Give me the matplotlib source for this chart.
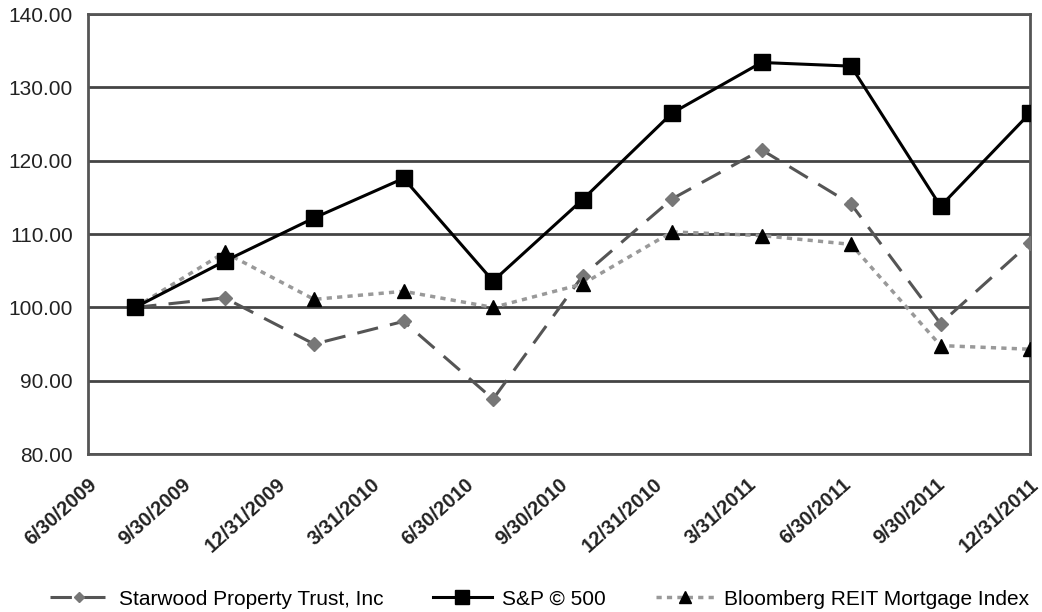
import numpy as np
import matplotlib
matplotlib.use('Agg')
import matplotlib.pyplot as plt

plt.rcParams['font.family'] = ['Liberation Sans', 'DejaVu Sans']

# 季度日期与三条指数走势
dates = ['6/30/2009', '9/30/2009', '12/31/2009', '3/31/2010', '6/30/2010',
         '9/30/2010', '12/31/2010', '3/31/2011', '6/30/2011', '9/30/2011',
         '12/31/2011']
starwood = [100.0, 101.3, 95.0, 98.1, 87.5, 104.3, 114.8, 121.5, 114.1, 97.8, 108.8]
sp500 = [100.0, 106.3, 112.2, 117.6, 103.6, 114.7, 126.5, 133.4, 132.9, 113.8, 126.5]
bloomberg = [100.0, 107.5, 101.1, 102.2, 100.0, 103.2, 110.3, 109.8, 108.6, 94.8, 94.3]

fig = plt.figure(figsize=(10.42, 6.12), dpi=100)
ax = fig.add_axes([0.0845, 0.258, 0.904, 0.719])

x = np.arange(len(dates))

ax.plot(x, starwood, color='#555555', lw=2.2, dashes=(7, 4),
        marker='D', ms=7, mfc='#777777', mec='#777777',
        label='Starwood Property Trust, Inc', zorder=3)
ax.plot(x, sp500, color='black', lw=2.2, marker='s', ms=12,
        mfc='black', mec='black', label='S&P \u00a9 500', zorder=4)
ax.plot(x, bloomberg, color='#999999', lw=2.5, dashes=(1.5, 1.5),
        marker='^', ms=10, mfc='black', mec='black',
        label='Bloomberg REIT Mortgage Index', zorder=3)

# 横轴：标签均匀分布在整个坐标区宽度上
x0 = -0.526
ax.set_xlim(x0, len(dates) - 1)
ax.set_xticks(np.linspace(x0, len(dates) - 1, len(dates)))
ax.set_xticklabels(dates, rotation=42, ha='right', va='top',
                   rotation_mode='anchor', fontsize=14.5, fontweight='bold',
                   color='#222222')

ax.set_ylim(80, 140)
ax.set_yticks(np.arange(80, 141, 10))
ax.set_yticklabels(['%.2f' % v for v in np.arange(80, 141, 10)],
                   fontsize=15, color='#222222')
ax.tick_params(length=0)
ax.tick_params(axis='y', pad=11)
ax.tick_params(axis='x', pad=15)

ax.grid(axis='y', color='#444444', lw=2)
ax.set_axisbelow(True)
for s in ax.spines.values():
    s.set_color('#555555')
    s.set_linewidth(2)

fig.legend(loc='lower center', bbox_to_anchor=(0.518, -0.025), ncol=3,
           frameon=False, fontsize=15, handlelength=2.8, columnspacing=2.4,
           handletextpad=0.5, markerscale=0.8)

plt.savefig('out.png', dpi=100)
